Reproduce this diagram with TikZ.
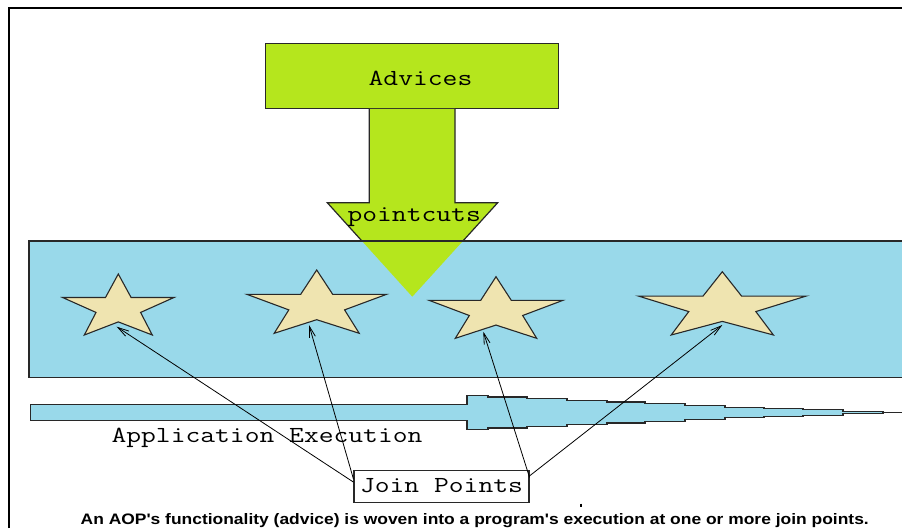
\documentclass[tikz,border=0pt]{standalone}
\usepackage{fontspec}
\newfontfamily\capfont{Liberation Sans}
\usetikzlibrary{arrows.meta,calc}
\definecolor{limegreen}{RGB}{181,230,29}
\definecolor{paintblue}{RGB}{153,217,234}
\definecolor{starcream}{RGB}{239,228,176}
\definecolor{darkline}{RGB}{40,40,40}
% wide typewriter text, like the paint program's Courier
\newcommand{\pmono}[1]{\scalebox{1.25}[1]{#1}}
\tikzset{
  monolbl/.style={font=\fontsize{23}{28}\selectfont\ttfamily, inner sep=0pt},
  advbox/.style={rectangle, draw=darkline, fill=limegreen, line width=1.2pt,
                 minimum width=293pt, minimum height=65pt, inner sep=0pt},
  cutfill/.style={fill=limegreen},
  cutline/.style={draw=darkline, line width=1.2pt, line join=miter},
  runbar/.style={draw=darkline, fill=paintblue, line width=1.2pt},
  starbody/.style={draw=darkline, fill=starcream, line width=1.1pt, line join=miter},
  jpbox/.style={rectangle, draw=darkline, line width=1.1pt, monolbl,
                minimum width=175pt, minimum height=32pt, text height=11pt},
  jparrow/.style={-{Straight Barb[length=11pt, width=6pt]}, line width=0.8pt, black}
}

\begin{document}
\begin{tikzpicture}[x=1pt, y=-1pt]
  \useasboundingbox (0,0) rectangle (902,528);
  \fill[white] (0,0) rectangle (902,528);
  % outer frame
  \draw[line width=2.5pt, black] (9,528) |- (902,8);

  % application band
  \fill[paintblue] (29,241) rectangle (904,377.3);

  % advices and pointcuts arrow
  \node[advbox] (adv) at (411.7,75.8) {};
  \node[monolbl, anchor=base] (advtxt) at (420.5,85) {\pmono{Advices}};
  \coordinate (cuttip) at (412.3,296.7);
  \fill[cutfill] ($(adv.south)+(-42.4,0)$) |- (327.3,202.7) -- (cuttip)
      -- (497.7,202.7) -| ($(adv.south)+(43.3,0)$) -- cycle;
  \begin{scope}
    \clip (0,0) rectangle (902,241);
    \draw[cutline] ($(adv.south)+(-42.4,0)$) |- (327.3,202.7) -- (cuttip)
        -- (497.7,202.7) -| ($(adv.south)+(43.3,0)$);
  \end{scope}
  \draw[darkline, line width=1.2pt] (904,241) -| (29,377.3) -- (904,377.3);
  \node[monolbl, anchor=base] (cuts) at (414.2,221.7) {\pmono{pointcuts}};

  % join point stars
  \foreach \n/\cx/\ty/\w/\h/\tx/\tyy in {s1/118.3/274/55.7/61/116.7/326.7,
      s2/316.7/270/69.7/63.3/309/325, s3/496/276.7/66.7/61.6/483.3/331.7,
      s4/722.3/271.7/83.8/63.3/722.3/325}{
    \begin{scope}[shift={(\cx,\ty)}, xscale=\w, yscale=\h]
      \filldraw[starbody] (0,0) -- (0.23,0.385) -- (1,0.385) -- (0.40,0.63)
        -- (0.61,1) -- (0,0.785) -- (-0.61,1) -- (-0.40,0.63) -- (-1,0.385)
        -- (-0.23,0.385) -- cycle;
    \end{scope}
    \coordinate (\n) at (\tx,\tyy);
  }

  % execution flow
  \filldraw[runbar] (30.7,404.2) -- (467,404.2) -- (467,395.3) -- (488,395.3)
    -- (488,397) -- (527,397) -- (527,398.7) -- (567,398.7) -- (567,400.3)
    -- (607,400.3) -- (607,402) -- (645,402) -- (645,403.7) -- (685,403.7)
    -- (685,405.5) -- (725,405.5) -- (725,407.2) -- (764,407.2) -- (764,408.5)
    -- (803,408.5) -- (803,409.8) -- (843,409.8) -- (843,411.2) -- (883,411.2)
    -- (883,413.8) -- (843,413.8) -- (843,415.2) -- (803,415.2) -- (803,416.5)
    -- (764,416.5) -- (764,417.8) -- (725,417.8) -- (725,419.5) -- (685,419.5)
    -- (685,421.3) -- (645,421.3) -- (645,423) -- (607,423) -- (607,424.7)
    -- (567,424.7) -- (567,426.3) -- (527,426.3) -- (527,428) -- (488,428)
    -- (488,429.7) -- (467,429.7) -- (467,420.8) -- (30.7,420.8) -- cycle;
  \coordinate (runend) at (902,412.5);
  \draw[darkline, line width=1.2pt] (883,412.5) -- (runend);
  \node[monolbl, anchor=base] (runlbl) at (267,442.3) {\pmono{Application Execution}};

  % join points
  \node[jpbox] (jp) at (441.5,486.7) {\pmono{Join Points}};
  \draw[jparrow] (jp.177.8) -- (s1);
  \draw[jparrow] (jp.175.6) -- (s2);
  \draw[jparrow] (jp.6.5) -- (s3);
  \draw[jparrow] (jp.7.6) -- (s4);

  \draw[line width=1.5pt, black] (581,503.5) -- (581,507);
  \node[anchor=base west, inner sep=0pt] (note) at (80.5,524)
    {\resizebox{788pt}{11pt}{\capfont\bfseries An AOP's functionality (advice) is woven into a program's execution at one or more join points.}};
\end{tikzpicture}
\end{document}
